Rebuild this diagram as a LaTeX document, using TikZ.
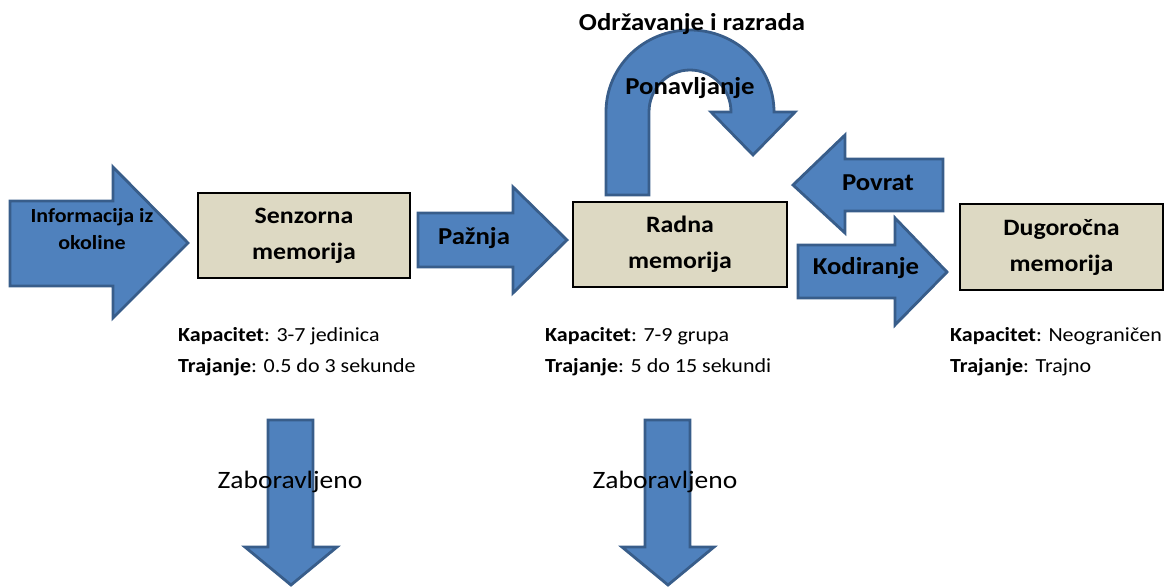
\documentclass[tikz,border=0pt]{standalone}
\usepackage{fontspec}
\setmainfont{Carlito}[FakeStretch=1.1]
\definecolor{arrowfill}{HTML}{4F81BD}
\definecolor{arrowline}{HTML}{385D8A}
\definecolor{boxfill}{HTML}{DDD9C3}
\begin{document}
\begin{tikzpicture}[x=1pt,y=1pt,
  blockarrow/.style={fill=arrowfill, draw=arrowline, line width=2.8pt, line join=miter},
  membox/.style={draw=black, fill=boxfill, line width=1.5pt, inner sep=0pt, align=center,
    font=\bfseries\fontsize{23.5}{36}\selectfont},
  arrowtext/.style={inner sep=0pt, align=center, font=\bfseries\fontsize{24.3}{28}\selectfont},
  smallarrowtext/.style={inner sep=0pt, align=center, font=\bfseries\fontsize{20}{27}\selectfont},
  infotext/.style={inner sep=0pt, anchor=base west, font=\fontsize{20}{31}\selectfont},
  forgottext/.style={inner sep=0pt, font=\fontsize{25}{30}\selectfont}]
\useasboundingbox (0,0) rectangle (1166,-586);

% input arrow
\draw[blockarrow] (10,-201) -- (113,-201) -- (113,-167) -- (188,-243) -- (113,-318)
  -- (113,-286) -- (10,-286) -- cycle;
\node[smallarrowtext] (info) at (92,-229) {Informacija iz\\okoline};

% boxes
\node[membox, minimum width=212pt, minimum height=85pt] (senz) at (304,-235.5) {Senzorna\\memorija};
\node[membox, minimum width=214pt, minimum height=85pt] (radna) at (680,-244.5) {Radna\\memorija};
\node[membox, minimum width=203pt, minimum height=86pt] (dug) at (1061.5,-247) {Dugoročna\\memorija};

% attention arrow
\draw[blockarrow] (418,-213) -- (513,-213) -- (513,-187) -- (567,-240) -- (513,-293)
  -- (513,-267) -- (418,-267) -- cycle;
\node[arrowtext] (paznja) at (474,-238) {Pažnja};

% retrieval arrow
\draw[blockarrow] (943,-159) -- (845,-159) -- (845,-135) -- (793,-185) -- (845,-233)
  -- (845,-211) -- (943,-211) -- cycle;
\node[arrowtext] (povrat) at (878,-183) {Povrat};

% encoding arrow
\draw[blockarrow] (798,-245) -- (895,-245) -- (895,-218) -- (947,-272) -- (895,-325)
  -- (895,-298) -- (798,-298) -- cycle;
\node[arrowtext] (kod) at (866,-268) {Kodiranje};

% u-turn arrow
\draw[blockarrow] (606,-195) -- (606,-112)
  arc[start angle=180, end angle=0, x radius=84pt, y radius=82pt]
  -- (795,-112) -- (753,-155) -- (711,-112) -- (731,-112)
  arc[start angle=0, end angle=180, x radius=41pt, y radius=42pt]
  -- (649,-195) -- cycle;
\node[arrowtext] (odrz) at (692,-24) {Održavanje i razrada};
\node[arrowtext] (pon) at (690,-88) {Ponavljanje};

% info texts
\node[infotext] (k1) at (178,-341) {\textbf{Kapacitet}: 3-7 jedinica};
\node[infotext] (t1) at (178,-372) {\textbf{Trajanje}: 0.5 do 3 sekunde};
\node[infotext] (k2) at (545,-341) {\textbf{Kapacitet}: 7-9 grupa};
\node[infotext] (t2) at (545,-372) {\textbf{Trajanje}: 5 do 15 sekundi};
\node[infotext] (k3) at (950,-341) {\textbf{Kapacitet}: Neograničen};
\node[infotext] (t3) at (950,-372) {\textbf{Trajanje}: Trajno};

% forgetting arrows
\draw[blockarrow] (268,-420) -- (313,-420) -- (313,-547) -- (337,-547) -- (291,-585)
  -- (245,-547) -- (268,-547) -- cycle;
\draw[blockarrow] (645,-420) -- (690,-420) -- (690,-547) -- (714,-547) -- (668,-585)
  -- (622,-547) -- (645,-547) -- cycle;
\node[forgottext] (z1) at (290,-482) {Zaboravljeno};
\node[forgottext] (z2) at (665,-482) {Zaboravljeno};
\end{tikzpicture}
\end{document}
